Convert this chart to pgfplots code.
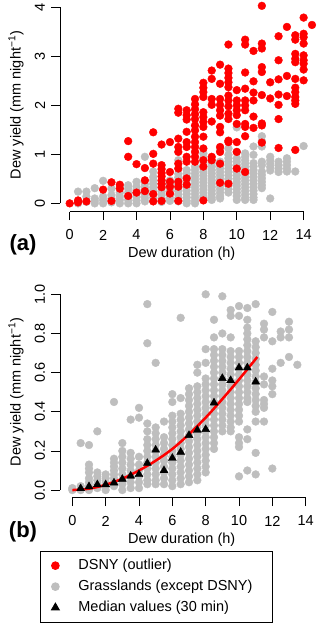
\documentclass[border=0pt]{standalone}
\usepackage{fontspec}
\setmainfont{Liberation Sans}
\usepackage{pgfplots}
\pgfplotsset{compat=1.18}

\definecolor{rred}{HTML}{FF0000}
\definecolor{rgrey}{HTML}{BEBEBE}

\pgfplotsset{
  rbase/.style={
    scale only axis, clip=false, clip marker paths=true,
    axis x line*=bottom, axis y line*=left,
    axis line style={draw=none},
    tick align=outside, major tick length=8.5bp,
    tick style={black, line width=0.8bp},
    /pgf/number format/assume math mode=true,
    every tick label/.append style={font=\fontsize{14.5bp}{16bp}\selectfont},
    xticklabel style={anchor=center, yshift=-14.8bp},
    yticklabel style={xshift=-11.5bp, rotate=90, anchor=center},
    every axis y label/.style={at={(axis description cs:-0.17,0.5)}, rotate=90, anchor=center,
      font=\fontsize{14.5bp}{16bp}\selectfont},
    every axis x label/.style={at={(axis description cs:0.47,0)}, anchor=center, yshift=-41.6bp,
      font=\fontsize{14.5bp}{16bp}\selectfont},
    xtick={0,2,...,14},
  },
  rdot/.style={only marks, mark=*, mark size=3.9bp,
    legend image code/.code={\draw[##1] plot coordinates {(0bp,0bp)};}},
  rtri/.style={only marks, mark=triangle*, mark size=4.6bp,
    legend image code/.code={\draw[##1] plot coordinates {(0bp,0bp)};}},
}

\begin{document}
\begin{tikzpicture}

% ---------- panel (a)
\begin{axis}[rbase,
  at={(60bp,425.3bp)}, anchor=south west,
  width=259bp, height=213.2bp,
  xmin=-0.58, xmax=14.92, ymin=-0.17, ymax=4.18,
  ytick={0,1,2,3,4},
  xlabel={Dew duration (h)},
  ylabel={Dew yield (mm night\textsuperscript{−1})}]

\addplot[rdot, draw=rgrey, fill=rgrey] coordinates {
 (0.5,0.24)(0.5,0.0)
 (1,0.24)(1,0.14)(1,0.03)
 (1.5,0.31)(1.5,0.10)(1.5,0.05)(1.5,0.0)
 (2,0.46)(2,0.14)(2,0.07)(2,0.0)
 (2.5,0.30)(2.5,0.17)(2.5,0.10)(2.5,0.02)
 (3,0.33)(3,0.22)(3,0.14)(3,0.07)(3,0.0)
 (3.5,0.37)(3.5,0.30)(3.5,0.22)(3.5,0.14)(3.5,0.07)(3.5,0.0)
 (4,0.44)(4,0.34)(4,0.27)(4,0.20)(4,0.13)(4,0.06)(4,0.0)
 (4.5,0.95)(4.5,0.39)(4.5,0.32)(4.5,0.25)(4.5,0.18)(4.5,0.11)(4.5,0.04)
 (5,0.65)(5,0.54)(5,0.47)(5,0.40)(5,0.33)(5,0.26)(5,0.19)(5,0.12)(5,0.05)
 (5.5,0.45)(5.5,0.38)(5.5,0.31)(5.5,0.24)(5.5,0.17)(5.5,0.10)(5.5,0.03)
 (6,0.47)(6,0.40)(6,0.33)(6,0.26)(6,0.19)(6,0.12)(6,0.05)
 (6.5,0.88)(6.5,0.60)(6.5,0.53)(6.5,0.46)(6.5,0.39)(6.5,0.32)(6.5,0.25)(6.5,0.18)(6.5,0.11)(6.5,0.04)
 (7,0.68)(7,0.61)(7,0.54)(7,0.47)(7,0.40)(7,0.33)(7,0.26)(7,0.19)(7,0.12)(7,0.05)(7,0.0)
 (7.5,0.75)(7.5,0.68)(7.5,0.61)(7.5,0.54)(7.5,0.47)(7.5,0.40)(7.5,0.33)(7.5,0.26)(7.5,0.19)(7.5,0.12)(7.5,0.05)(7.5,0.0)
 (8,1.02)(8,0.92)(8,0.85)(8,0.78)(8,0.71)(8,0.64)(8,0.57)(8,0.50)(8,0.43)(8,0.36)(8,0.29)(8,0.22)(8,0.15)(8,0.10)
 (8.5,0.82)(8.5,0.75)(8.5,0.68)(8.5,0.61)(8.5,0.54)(8.5,0.47)(8.5,0.40)(8.5,0.33)(8.5,0.26)(8.5,0.19)(8.5,0.12)(8.5,0.07)
 (9,1.09)(9,0.85)(9,0.78)(9,0.71)(9,0.64)(9,0.57)(9,0.50)(9,0.43)(9,0.36)(9,0.29)(9,0.22)(9,0.15)(9,0.10)
 (9.5,1.12)(9.5,0.99)(9.5,0.92)(9.5,0.85)(9.5,0.78)(9.5,0.71)(9.5,0.64)(9.5,0.57)(9.5,0.50)(9.5,0.43)(9.5,0.36)(9.5,0.29)(9.5,0.22)
 (10,1.55)(10,1.05)(10,0.92)(10,0.85)(10,0.78)(10,0.71)(10,0.64)(10,0.57)(10,0.50)(10,0.43)(10,0.36)(10,0.29)(10,0.22)(10,0.15)(10,0.07)
 (10.5,1.02)(10.5,0.95)(10.5,0.88)(10.5,0.81)(10.5,0.74)(10.5,0.67)(10.5,0.60)(10.5,0.53)(10.5,0.46)(10.5,0.39)(10.5,0.32)(10.5,0.25)(10.5,0.18)(10.5,0.11)(10.5,0.07)
 (11,1.16)(11,0.99)(11,0.82)(11,0.75)(11,0.68)(11,0.61)(11,0.54)(11,0.47)(11,0.40)(11,0.33)(11,0.26)(11,0.19)(11,0.12)(11,0.07)
 (11.5,1.37)(11.5,1.27)(11.5,1.16)(11.5,0.85)(11.5,0.78)(11.5,0.65)(11.5,0.58)(11.5,0.51)(11.5,0.44)(11.5,0.37)(11.5,0.31)
 (12,0.95)(12,0.88)(12,0.81)(12,0.74)(12,0.67)(12,0.10)
 (12.5,0.85)(12.5,0.78)(12.5,0.71)(12.5,0.64)
 (13,0.92)(13,0.85)(13,0.78)(13,0.71)(13,0.65)
 (13.5,0.65)
 (14,1.17)
};

\addplot[rdot, draw=rred, fill=rred] coordinates {
 (0,0.0)
 (0.5,0.02)(0.5,0.06)
 (1,0.04)
 (2,0.28)
 (2.5,0.43)(2.5,0.05)
 (3,0.38)(3,0.30)
 (3.5,1.27)(3.5,0.95)(3.5,0.15)
 (4,0.80)(4,0.22)
 (4.5,0.72)(4.5,0.47)(4.5,0.25)
 (5,1.45)(5,1.01)(5,0.81)(5,0.19)(5,0.04)
 (5.5,1.20)(5.5,0.78)(5.5,0.70)(5.5,0.62)(5.5,0.55)(5.5,0.47)(5.5,0.40)(5.5,0.33)(5.5,0.05)
 (6,1.25)(6,0.64)(6,0.44)(6,0.34)(6,0.20)
 (6.5,1.93)(6.5,1.85)(6.5,1.32)(6.5,1.15)(6.5,1.05)(6.5,0.81)(6.5,0.71)(6.5,0.44)(6.5,0.34)(6.5,0.05)
 (7,1.90)(7,1.80)(7,1.71)(7,1.46)(7,1.25)(7,1.15)(7,0.95)(7,0.85)(7,0.51)(7,0.38)
 (7.5,2.13)(7.5,2.02)(7.5,1.92)(7.5,1.82)(7.5,1.72)(7.5,1.59)(7.5,1.49)(7.5,1.36)(7.5,1.25)(7.5,1.15)(7.5,1.05)(7.5,0.95)(7.5,0.85)
 (8,2.46)(8,2.36)(8,2.27)(8,2.17)(8,1.86)(8,1.76)(8,1.66)(8,1.56)(8,1.36)(8,1.12)(8,0.88)(8,0.75)(8,0.06)
 (8.5,2.71)(8.5,2.54)(8.5,2.13)(8.5,2.01)(8.5,1.67)(8.5,0.95)(8.5,0.88)
 (9,2.83)(9,2.44)(9,2.13)(9,2.01)(9,1.90)(9,1.79)(9,1.56)(9,1.45)(9,1.15)(9,1.05)(9,0.81)(9,0.42)
 (9.5,3.24)(9.5,2.75)(9.5,2.66)(9.5,2.56)(9.5,2.47)(9.5,2.37)(9.5,2.20)(9.5,2.10)(9.5,1.98)(9.5,1.83)(9.5,1.72)(9.5,1.28)(9.5,1.25)(9.5,0.40)
 (10,2.31)(10,2.10)(10,2.00)(10,1.90)(10,1.80)(10,1.62)(10,1.25)(10,1.05)(10,0.71)
 (10.5,3.34)(10.5,3.24)(10.5,2.67)(10.5,2.34)(10.5,2.10)(10.5,2.00)(10.5,1.90)(10.5,1.62)(10.5,1.56)(10.5,1.37)(10.5,0.64)
 (11,3.11)(11,2.49)(11,2.26)(11,2.10)(11,1.77)(11,1.54)
 (11.5,4.03)(11.5,3.26)(11.5,3.16)(11.5,2.78)(11.5,2.68)(11.5,2.21)(11.5,1.63)(11.5,1.59)(11.5,1.24)
 (12,2.47)(12,2.14)
 (12.5,3.41)(12.5,2.92)(12.5,2.53)(12.5,2.22)(12.5,2.01)(12.5,1.72)(12.5,1.13)
 (13,3.60)(13,2.60)(13,2.19)
 (13.5,3.43)(13.5,3.34)(13.5,3.05)(13.5,2.95)(13.5,2.88)(13.5,2.54)(13.5,2.36)(13.5,2.27)(13.5,2.17)(13.5,2.10)(13.5,2.03)(13.5,1.09)
 (14,3.79)(14,3.46)(14,3.39)(14,3.26)(14,3.02)(14,2.92)(14,2.85)(14,2.73)(14,2.51)
 (14.5,3.64)
};

% R-style axis lines spanning the tick range only
\draw[line width=0.8bp] (axis cs:0,-0.17) -- (axis cs:14,-0.17);
\draw[line width=0.8bp] (axis cs:-0.58,0) -- (axis cs:-0.58,4);
\end{axis}

% ---------- panel (b)
\begin{axis}[rbase,
  at={(60bp,139.3bp)}, anchor=south west,
  width=259bp, height=211.2bp,
  xmin=-0.74, xmax=14.80, ymin=-0.039, ymax=1.04,
  ytick={0,0.2,0.4,0.6,0.8,1.0},
  yticklabel style={/pgf/number format/fixed, /pgf/number format/fixed zerofill, /pgf/number format/precision=1},
  xlabel={Dew duration (h)},
  ylabel={Dew yield (mm night\textsuperscript{−1})},
  legend cell align=left,
  legend style={at={(axis description cs:-0.0772,-0.25)}, anchor=north west,
    draw=black, line width=0.8bp,
    inner xsep=11bp, inner ysep=8bp,
    row sep=7.5bp, column sep=19bp,
    nodes={inner sep=0pt, text height=10.5bp, text depth=3bp,
      font=\fontsize{14.5bp}{16bp}\selectfont}}]

\addlegendimage{rdot, draw=rred, fill=rred}
\addlegendentry{DSNY (outlier)}

\addplot[rdot, draw=rgrey, fill=rgrey] coordinates {
 (0,0.0)(0,0.01)
 (0.5,0.24)(0.5,0.0)(0.5,0.02)
 (1,0.23)(1,0.13)(1,0.11)(1,0.09)(1,0.06)(1,0.04)(1,0.02)(1,0.0)
 (1.5,0.30)(1.5,0.09)(1.5,0.07)(1.5,0.05)(1.5,0.03)(1.5,0.01)
 (2,0.08)(2,0.06)(2,0.04)(2,0.02)(2,0.0)
 (2.5,0.45)(2.5,0.16)(2.5,0.14)(2.5,0.12)(2.5,0.10)(2.5,0.08)(2.5,0.06)(2.5,0.04)(2.5,0.02)
 (3,0.24)(3,0.20)(3,0.17)(3,0.14)(3,0.11)(3,0.08)(3,0.05)(3,0.03)(3,0.0)
 (3.5,0.36)(3.5,0.19)(3.5,0.16)(3.5,0.13)(3.5,0.10)(3.5,0.07)(3.5,0.04)(3.5,0.01)
 (4,0.42)(4,0.37)(4,0.17)(4,0.13)(4,0.10)(4,0.07)(4,0.04)(4,0.01)
 (4.5,0.95)(4.5,0.75)(4.5,0.34)(4.5,0.30)(4.5,0.26)(4.5,0.23)(4.5,0.20)(4.5,0.17)(4.5,0.14)(4.5,0.11)(4.5,0.08)(4.5,0.05)(4.5,0.03)
 (5,0.65)(5,0.32)(5,0.29)(5,0.26)(5,0.23)(5,0.20)(5,0.17)(5,0.14)(5,0.11)(5,0.08)(5,0.05)(5,0.03)
 (5.5,0.35)(5.5,0.27)(5.5,0.24)(5.5,0.21)(5.5,0.18)(5.5,0.15)(5.5,0.12)(5.5,0.09)(5.5,0.06)(5.5,0.03)
 (6,0.49)(6,0.45)(6,0.38)(6,0.35)(6,0.32)(6,0.29)(6,0.26)(6,0.23)(6,0.20)(6,0.17)(6,0.14)(6,0.11)(6,0.08)(6,0.05)(6,0.02)
 (6.5,0.88)(6.5,0.47)(6.5,0.39)(6.5,0.36)(6.5,0.33)(6.5,0.30)(6.5,0.27)(6.5,0.24)(6.5,0.21)(6.5,0.18)(6.5,0.15)(6.5,0.12)(6.5,0.09)(6.5,0.06)(6.5,0.03)
 (7,0.52)(7,0.49)(7,0.46)(7,0.43)(7,0.40)(7,0.37)(7,0.34)(7,0.31)(7,0.28)(7,0.25)(7,0.22)(7,0.19)(7,0.16)(7,0.13)(7,0.10)(7,0.07)(7,0.04)
 (7.5,0.64)(7.5,0.60)(7.5,0.53)(7.5,0.50)(7.5,0.47)(7.5,0.44)(7.5,0.41)(7.5,0.38)(7.5,0.35)(7.5,0.32)(7.5,0.29)(7.5,0.26)(7.5,0.23)(7.5,0.20)(7.5,0.17)(7.5,0.14)(7.5,0.11)(7.5,0.08)(7.5,0.05)
 (8,1.0)(8,0.72)(8,0.65)(8,0.57)(8,0.54)(8,0.51)(8,0.48)(8,0.45)(8,0.42)(8,0.39)(8,0.36)(8,0.33)(8,0.30)(8,0.27)(8,0.24)(8,0.21)(8,0.18)(8,0.15)(8,0.12)(8,0.09)
 (8.5,0.87)(8.5,0.78)(8.5,0.72)(8.5,0.69)(8.5,0.66)(8.5,0.63)(8.5,0.60)(8.5,0.57)(8.5,0.54)(8.5,0.51)(8.5,0.48)(8.5,0.45)(8.5,0.42)(8.5,0.39)(8.5,0.36)(8.5,0.33)(8.5,0.30)(8.5,0.27)(8.5,0.24)(8.5,0.21)
 (9,0.99)(9,0.80)(9,0.72)(9,0.69)(9,0.66)(9,0.63)(9,0.60)(9,0.57)(9,0.54)(9,0.51)(9,0.48)(9,0.45)(9,0.42)(9,0.39)(9,0.36)(9,0.33)(9,0.30)
 (9.5,0.92)(9.5,0.89)(9.5,0.78)(9.5,0.71)(9.5,0.68)(9.5,0.65)(9.5,0.62)(9.5,0.59)(9.5,0.56)(9.5,0.53)(9.5,0.50)(9.5,0.47)(9.5,0.44)(9.5,0.41)(9.5,0.38)(9.5,0.35)(9.5,0.32)(9.5,0.30)
 (10,0.94)(10,0.89)(10,0.71)(10,0.68)(10,0.65)(10,0.62)(10,0.59)(10,0.56)(10,0.53)(10,0.50)(10,0.47)(10,0.44)(10,0.41)(10,0.38)(10,0.35)(10,0.27)(10,0.24)(10,0.22)(10,0.07)
 (10.5,0.93)(10.5,0.87)(10.5,0.83)(10.5,0.80)(10.5,0.77)(10.5,0.74)(10.5,0.71)(10.5,0.68)(10.5,0.65)(10.5,0.62)(10.5,0.59)(10.5,0.56)(10.5,0.53)(10.5,0.50)(10.5,0.47)(10.5,0.45)(10.5,0.31)(10.5,0.26)(10.5,0.10)
 (11,0.95)(11,0.76)(11,0.73)(11,0.70)(11,0.67)(11,0.64)(11,0.61)(11,0.58)(11,0.55)(11,0.52)(11,0.49)(11,0.46)(11,0.43)(11,0.40)(11,0.35)(11,0.19)(11,0.08)
 (11.5,0.85)(11.5,0.82)(11.5,0.78)(11.5,0.58)(11.5,0.54)(11.5,0.46)(11.5,0.44)(11.5,0.42)(11.5,0.35)
 (12,0.91)(12,0.76)(12,0.62)(12,0.56)(12,0.53)(12,0.49)(12,0.11)
 (12.5,0.81)(12.5,0.78)(12.5,0.65)
 (13,0.86)(13,0.82)(13,0.78)(13,0.68)
 (13.5,0.64)
};
\addlegendentry{Grasslands (except DSNY)\hspace*{9bp}}

% fitted curve
\addplot[forget plot, no markers, draw=rred, line width=2.5bp, smooth] coordinates {
 (0,0.0)(1,0.007)(2,0.027)(3,0.058)(4,0.10)(5,0.15)(6,0.21)
 (7,0.285)(8,0.37)(9,0.465)(10,0.565)(11.1,0.68)
};

\addplot[rtri, draw=black, fill=black] coordinates {
 (0.5,0.008)(1,0.018)(1.5,0.028)(2,0.028)(2.5,0.037)(3,0.056)(3.5,0.072)(4,0.08)
 (4.5,0.137)(5,0.205)(5.5,0.10)(6,0.163)(6.5,0.194)(7,0.28)(7.5,0.306)(8,0.31)
 (8.5,0.446)(9,0.571)(9.5,0.56)(10,0.625)(10.5,0.625)(11,0.553)
};
\addlegendentry{Median values (30 min)}

\draw[line width=0.8bp] (axis cs:0,-0.039) -- (axis cs:14,-0.039);
\draw[line width=0.8bp] (axis cs:-0.74,0) -- (axis cs:-0.74,1);
\end{axis}

\node[font=\fontsize{22bp}{24bp}\selectfont\bfseries] at (23bp,392bp) {(a)};
\node[font=\fontsize{22bp}{24bp}\selectfont\bfseries] at (23bp,105.3bp) {(b)};

\pgfresetboundingbox
\useasboundingbox (0bp,0bp) rectangle (320bp,637bp);
\end{tikzpicture}
\end{document}
